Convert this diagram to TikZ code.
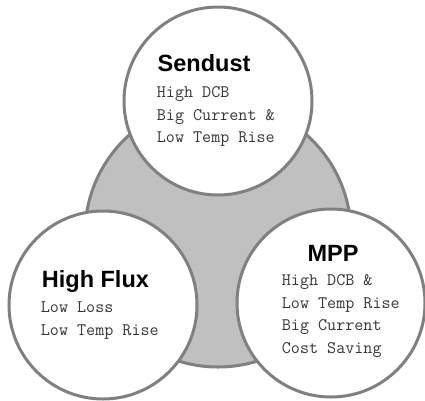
\documentclass[tikz,border=0pt]{standalone}
\usepackage{fontspec}
\usepackage{tikz}
\newfontfamily\titlefont{Liberation Sans}
\usetikzlibrary{positioning}
\definecolor{ringgray}{RGB}{128,128,128}
\definecolor{fillgray}{RGB}{192,192,192}
\definecolor{textgray}{RGB}{55,55,55}
\tikzset{
  ring/.style={draw=ringgray,line width=3pt},
  title/.style={anchor=base west,inner sep=0pt,font=\titlefont\bfseries\fontsize{23.5}{26}\selectfont},
  props/.style={anchor=base west,inner sep=0pt,align=left,text=textgray,font=\ttfamily\fontsize{17.6}{22.5}\selectfont}
}

\begin{document}
\begin{tikzpicture}[x=1pt,y=-1pt]
\useasboundingbox (0,0) rectangle (425,400);
\coordinate (core) at (218,234);
\coordinate (sendust) at (218,101);
\coordinate (highflux) at (103,305);
\coordinate (mpp) at (331,303);

\draw[ring,fill=fillgray] (core) circle (133);
\draw[ring,fill=white] (sendust) circle (94);
\draw[ring,fill=white] (highflux) circle (94);
\draw[ring,fill=white] (mpp) circle (94);

\node[title] (sendusttitle) at (157.5,71.7) {Sendust};
\node[props] (sendustprops) at (156.7,142.7) {High DCB\\Big Current \&\\Low Temp Rise};

\node[title] (highfluxtitle) at (41.7,287.3) {High Flux};
\node[props] (highfluxprops) at (40.7,335) {Low Loss\\Low Temp Rise};

\node[title] (mpptitle) at (307.3,261.7) {MPP};
\node[props] (mppprops) at (281.7,353.3) {High DCB \&\\Low Temp Rise\\Big Current\\Cost Saving};
\end{tikzpicture}
\end{document}
